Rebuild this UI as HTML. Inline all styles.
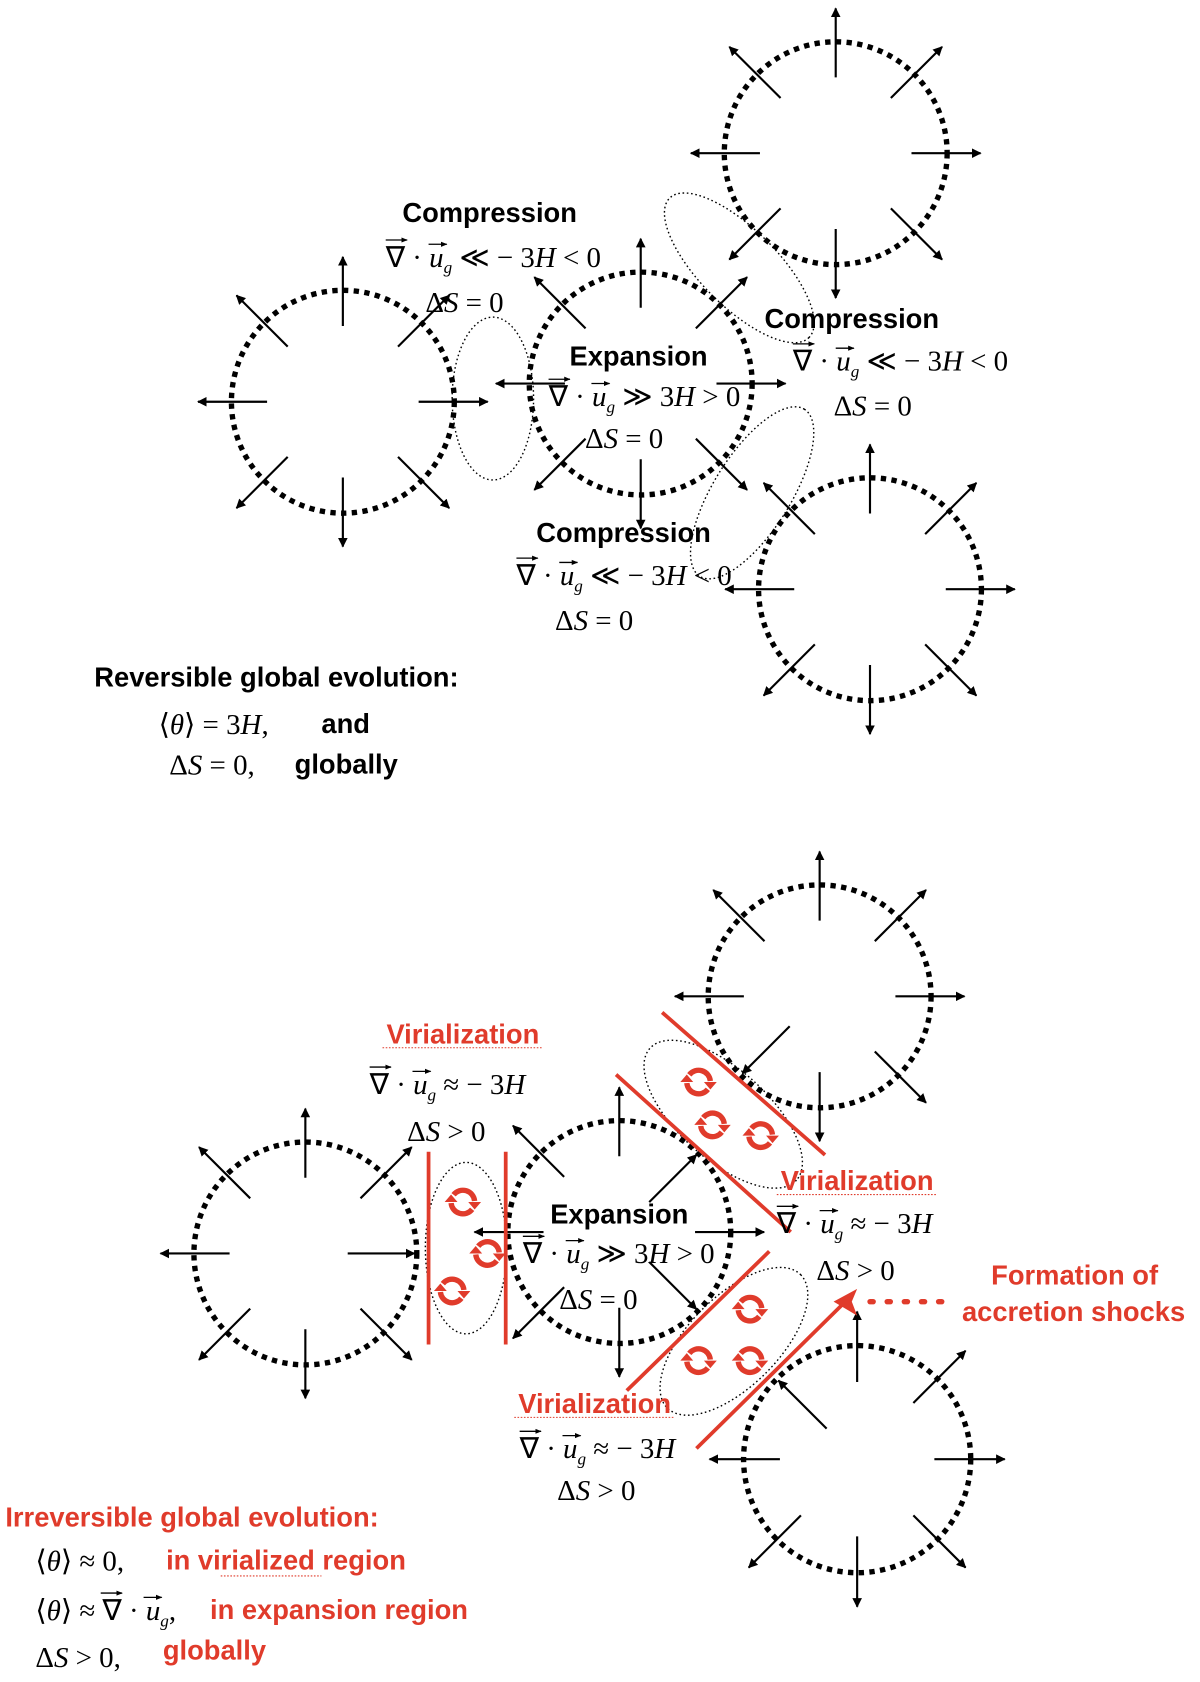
<!DOCTYPE html>
<html><head><meta charset="utf-8"><style>
html,body{margin:0;padding:0;background:#fff}
svg{display:block}
.b{font-family:"Liberation Sans",sans-serif;font-weight:bold;font-size:25.5px;fill:#000}
.r{fill:#e03b2b}
.m{font-family:"Liberation Serif",serif;font-size:27px;fill:#000}
.i{font-style:italic}
</style></head><body>
<svg id="s" width="1200" height="1682" viewBox="0 0 1120 1570" preserveAspectRatio="none" xmlns="http://www.w3.org/2000/svg">
<defs>
<marker id="ah" viewBox="0 0 10 10" refX="9" refY="5" markerWidth="9" markerHeight="9" markerUnits="userSpaceOnUse" orient="auto"><path d="M0,0 L10,5 L0,10 z" fill="#000"/></marker>
<marker id="sa" viewBox="0 0 10 10" refX="9" refY="5" markerWidth="6" markerHeight="6" markerUnits="userSpaceOnUse" orient="auto"><path d="M0,1 L10,5 L0,9 z" fill="#000"/></marker>
</defs>
<g id="shapes"></g>

<g fill="none" stroke="#000" stroke-width="1.3" stroke-dasharray="1.5 2.5">
<ellipse cx="460" cy="372" rx="38" ry="76"/>
<ellipse cx="690" cy="250" rx="92" ry="36" transform="rotate(45 690 250)"/>
<ellipse cx="702" cy="460" rx="92" ry="36" transform="rotate(-58 702 460)"/>
<ellipse cx="435" cy="1165" rx="38" ry="80"/>
<ellipse cx="675" cy="1040" rx="92" ry="42" transform="rotate(42 675 1040)"/>
<ellipse cx="685" cy="1252" rx="88" ry="42" transform="rotate(-45 685 1252)"/>
</g>

<g stroke="#e03b2b" stroke-width="3.5" fill="none">
<line x1="400" y1="1075" x2="400" y2="1255"/>
<line x1="472" y1="1075" x2="472" y2="1255"/>
<line x1="575" y1="1003" x2="738" y2="1150"/>
<line x1="618" y1="945" x2="770" y2="1078"/>
<line x1="585" y1="1298" x2="718" y2="1168"/>
<line x1="650" y1="1352" x2="792" y2="1212"/>
<path d="M778,1215 L800,1203 L795,1215 L800,1228 z" fill="#e03b2b" stroke="none"/>
<line x1="812" y1="1215" x2="885" y2="1215" stroke-width="5" stroke-dasharray="3 13" stroke-linecap="round"/>
</g>
<g id="spins"></g>

<text class="b" x="457" y="207" text-anchor="middle">Compression</text>
<text class="b" x="596" y="341" text-anchor="middle">Expansion</text>
<text class="b" x="795" y="306" text-anchor="middle">Compression</text>
<text class="b" x="582" y="506" text-anchor="middle">Compression</text>
<text class="m" x="397" y="291">Δ<tspan class="i">S</tspan> = 0</text>
<text class="m" x="546" y="418">Δ<tspan class="i">S</tspan> = 0</text>
<text class="m" x="778" y="388">Δ<tspan class="i">S</tspan> = 0</text>
<text class="m" x="518" y="588">Δ<tspan class="i">S</tspan> = 0</text>

<text class="b" x="88" y="641">Reversible global evolution:</text>
<text class="m" x="148" y="685">⟨<tspan class="i">θ</tspan>⟩ = 3<tspan class="i">H</tspan>,</text>
<text class="b" x="300" y="684">and</text>
<text class="m" x="158" y="723">Δ<tspan class="i">S</tspan> = 0,</text>
<text class="b" x="275" y="722">globally</text>

<text class="b r" x="432" y="974" text-anchor="middle">Virialization</text>
<text class="b r" x="800" y="1111" text-anchor="middle">Virialization</text>
<text class="b r" x="555" y="1319" text-anchor="middle">Virialization</text>
<g stroke="#e03b2b" stroke-width="1" stroke-dasharray="1.5 1.5">
<line x1="357" y1="978" x2="507" y2="978"/><line x1="725" y1="1115" x2="875" y2="1115"/><line x1="480" y1="1323" x2="630" y2="1323"/><line x1="206" y1="1471" x2="300" y2="1471"/>
</g>
<text class="b" x="578" y="1142" text-anchor="middle">Expansion</text>
<text class="m" x="380" y="1065">Δ<tspan class="i">S</tspan> &gt; 0</text>
<text class="m" x="762" y="1195">Δ<tspan class="i">S</tspan> &gt; 0</text>
<text class="m" x="520" y="1400">Δ<tspan class="i">S</tspan> &gt; 0</text>
<text class="m" x="522" y="1222">Δ<tspan class="i">S</tspan> = 0</text>
<text class="b r" x="1003" y="1199" text-anchor="middle">Formation of</text>
<text class="b r" x="1002" y="1233" text-anchor="middle">accretion shocks</text>

<text class="b r" x="5" y="1425">Irreversible global evolution:</text>
<text class="m" x="33" y="1466">⟨<tspan class="i">θ</tspan>⟩ ≈ 0,</text>
<text class="b r" x="155" y="1465">in virialized region</text>
<text class="m" x="33" y="1512">⟨<tspan class="i">θ</tspan>⟩ ≈ ∇ · <tspan class="i">u</tspan><tspan font-size="16" class="i" dy="6">g</tspan><tspan dy="-6">,</tspan></text>
<text class="b r" x="196" y="1511">in expansion region</text>
<text class="m" x="33" y="1556">Δ<tspan class="i">S</tspan> &gt; 0,</text>
<text class="b r" x="152" y="1549">globally</text>

<g id="f">
<text class="m" x="360" y="249">∇ · <tspan class="i">u</tspan><tspan font-size="16" class="i" dy="6">g</tspan><tspan dy="-6"> ≪ − 3<tspan class="i">H</tspan> &lt; 0</tspan></text>
<text class="m" x="512" y="379">∇ · <tspan class="i">u</tspan><tspan font-size="16" class="i" dy="6">g</tspan><tspan dy="-6"> ≫ 3<tspan class="i">H</tspan> &gt; 0</tspan></text>
<text class="m" x="740" y="346">∇ · <tspan class="i">u</tspan><tspan font-size="16" class="i" dy="6">g</tspan><tspan dy="-6"> ≪ − 3<tspan class="i">H</tspan> &lt; 0</tspan></text>
<text class="m" x="482" y="546">∇ · <tspan class="i">u</tspan><tspan font-size="16" class="i" dy="6">g</tspan><tspan dy="-6"> ≪ − 3<tspan class="i">H</tspan> &lt; 0</tspan></text>
<text class="m" x="345" y="1021">∇ · <tspan class="i">u</tspan><tspan font-size="16" class="i" dy="6">g</tspan><tspan dy="-6"> ≈ − 3<tspan class="i">H</tspan></tspan></text>
<text class="m" x="725" y="1151">∇ · <tspan class="i">u</tspan><tspan font-size="16" class="i" dy="6">g</tspan><tspan dy="-6"> ≈ − 3<tspan class="i">H</tspan></tspan></text>
<text class="m" x="485" y="1361">∇ · <tspan class="i">u</tspan><tspan font-size="16" class="i" dy="6">g</tspan><tspan dy="-6"> ≈ − 3<tspan class="i">H</tspan></tspan></text>
<text class="m" x="488" y="1179">∇ · <tspan class="i">u</tspan><tspan font-size="16" class="i" dy="6">g</tspan><tspan dy="-6"> ≫ 3<tspan class="i">H</tspan> &gt; 0</tspan></text>
</g>
<g id="vecs"></g>

<script>
var NS="http://www.w3.org/2000/svg",G=document.getElementById("shapes");
function el(t,a,p){var e=document.createElementNS(NS,t);for(var k in a)e.setAttribute(k,a[k]);(p||G).appendChild(e);return e;}
function arr(x1,y1,x2,y2){el("line",{x1:x1,y1:y1,x2:x2,y2:y2,stroke:"#000","stroke-width":2,"marker-end":"url(#ah)"});}
function circ(cx,cy,r,sh){
 el("circle",{cx:cx,cy:cy,r:r,fill:"none",stroke:"#000","stroke-width":5,"stroke-dasharray":"5 5"});
 for(var i=0;i<8;i++){var a=i*Math.PI/4,dx=Math.cos(a),dy=-Math.sin(a);
  var a1=0.68*r,a2=1.3*r; if(i%2==1){a1=0.7*r;a2=1.35*r;}
  if(sh.indexOf(i)>=0){a1=0.38*r;a2=0.98*r;}
  arr(cx+dx*a1,cy+dy*a1,cx+dx*a2,cy+dy*a2);}
}
circ(780,143,104,[]);circ(320,375,104,[]);circ(598,358,104,[]);circ(812,550,104,[]);
circ(765,930,104,[5]);circ(285,1170,104,[0]);circ(578,1150,104,[1,7]);circ(800,1362,106,[3]);
var S=document.getElementById("spins");
function spin(x,y){
 var r=11;
 function pt(d){var a=d*Math.PI/180;return [x+r*Math.cos(a),y+r*Math.sin(a)];}
 [[200,20],[20,200]].forEach(function(q){
  var p1=pt(q[0]+18),p2=pt(q[0]+155);
  el("path",{d:"M"+p1[0]+","+p1[1]+" A"+r+","+r+" 0 0 1 "+p2[0]+","+p2[1],fill:"none",stroke:"#e03b2b","stroke-width":5},S);
  var a=(q[0]+160)*Math.PI/180,tx=x+r*Math.cos(a),ty=y+r*Math.sin(a),ux=-Math.sin(a),uy=Math.cos(a);
  var nx=Math.cos(a),ny=Math.sin(a);
  el("path",{d:"M"+(tx+nx*6)+","+(ty+ny*6)+" L"+(tx-nx*6)+","+(ty-ny*6)+" L"+(tx+ux*7)+","+(ty+uy*7)+"z",fill:"#e03b2b"},S);
 });
}
[[432,1122],[455,1170],[422,1205],[652,1010],[665,1050],[710,1060],[700,1222],[652,1270],[700,1270]].forEach(function(p){spin(p[0],p[1]);});
var V=document.getElementById("vecs");
[[360,249],[512,379],[740,346],[482,546],[345,1021],[725,1151],[485,1361],[488,1179],[94,1512]].forEach(function(p){
 var x=p[0],y=p[1];
 el("line",{x1:x,y1:y-25,x2:x+20,y2:y-25,stroke:"#000","stroke-width":1.2,"marker-end":"url(#sa)"},V);
 el("line",{x1:x+40,y1:y-21,x2:x+57,y2:y-21,stroke:"#000","stroke-width":1.2,"marker-end":"url(#sa)"},V);
});
</script>
</svg>
</body></html>
